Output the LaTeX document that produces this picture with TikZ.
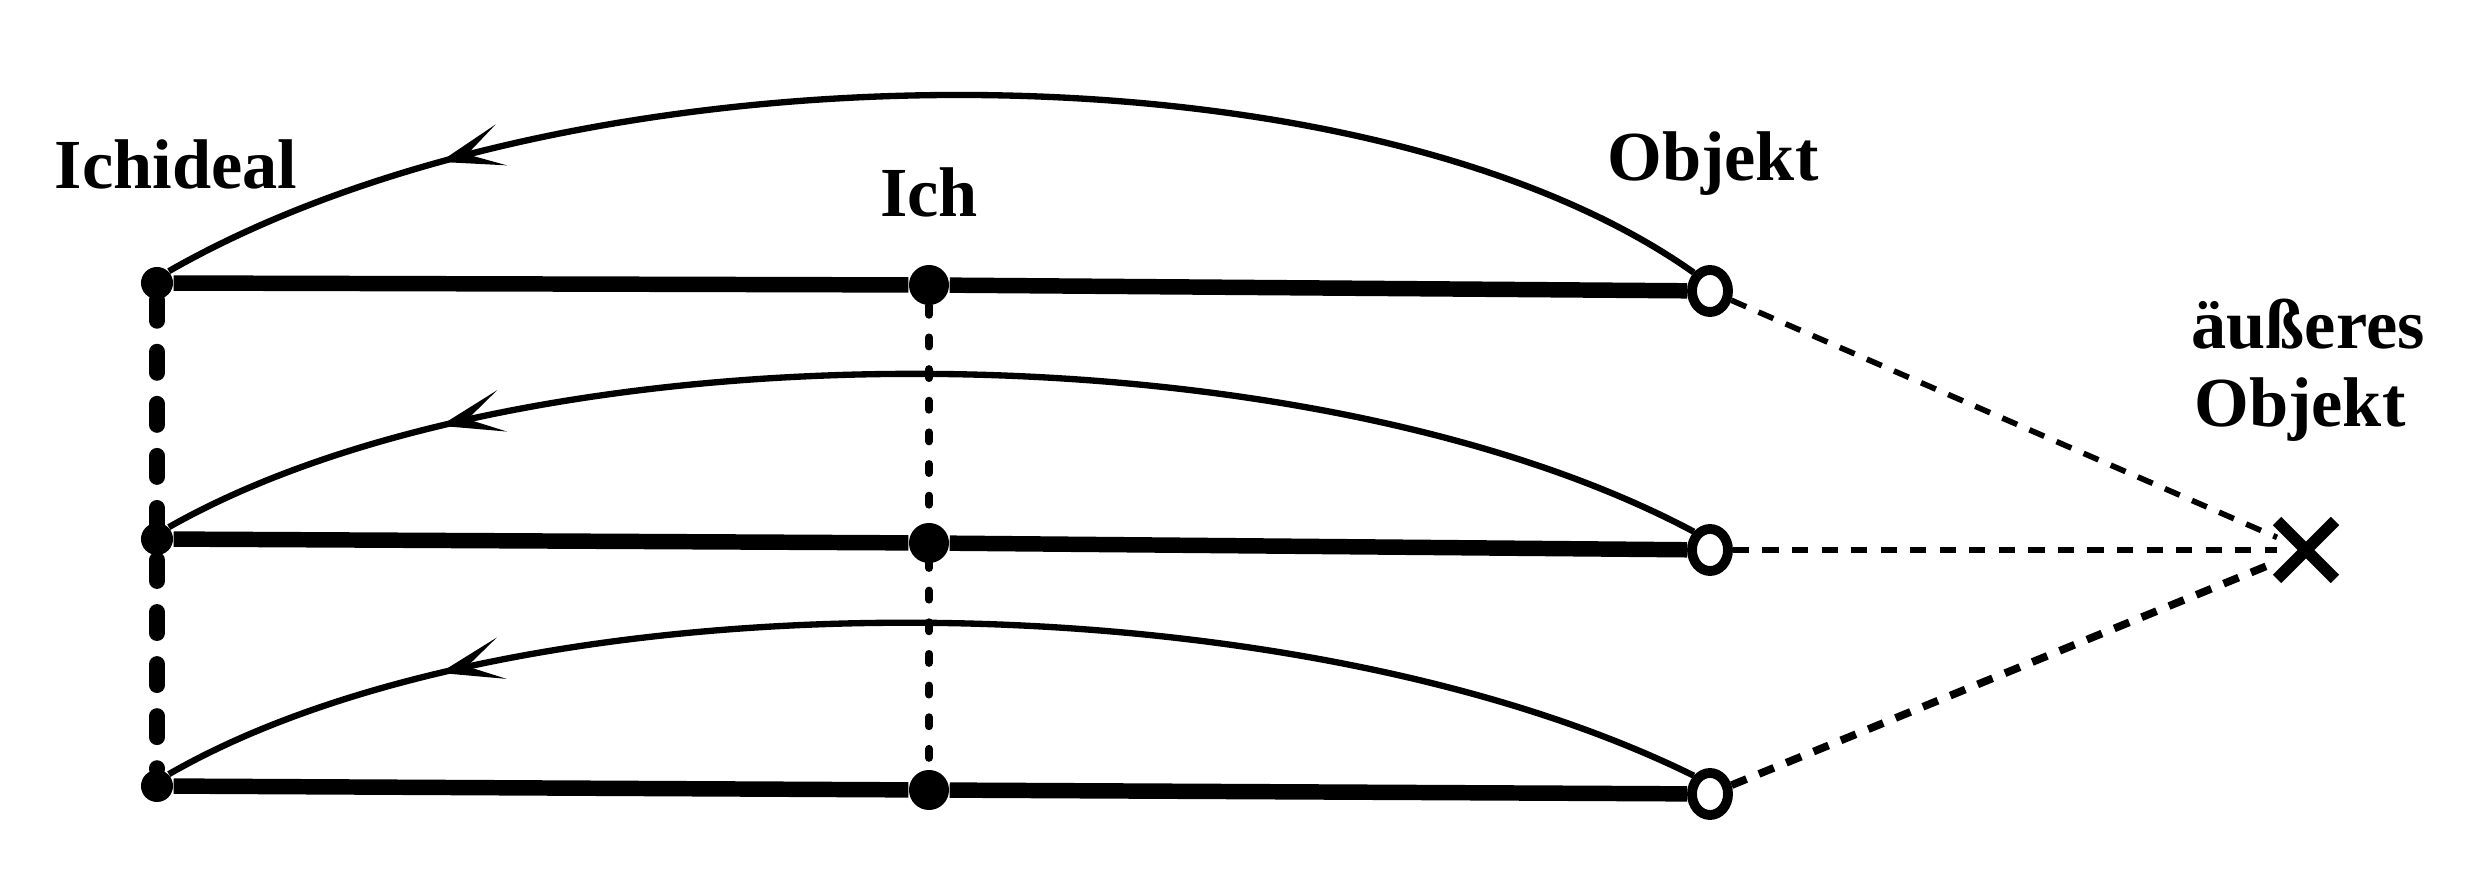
\documentclass[tikz,border=0pt]{standalone}
\usepackage{fontspec}
\setmainfont{Liberation Serif}
\usetikzlibrary{shapes.geometric,shapes.misc,arrows.meta,decorations.markings}
\tikzset{
  lbl/.style={font=\fontsize{20}{23}\selectfont\bfseries, inner sep=0pt, align=center},
  idealdot/.style={circle, fill=black, minimum size=0.32cm, inner sep=0pt},
  ichdot/.style={circle, fill=black, minimum size=0.40cm, inner sep=0pt},
  objcirc/.style={ellipse, draw=black, line width=2.8pt, fill=white, minimum width=0.36cm, minimum height=0.42cm, inner sep=0pt},
  bar/.style={line width=4.4pt},
  arc/.style={line width=1.8pt, postaction={decorate},
    decoration={markings, mark=at position #1 with {\arrow{Stealth[length=18pt,width=12pt,inset=10pt]}}}},
  idealdash/.style={line width=4.5pt, line cap=round, dash pattern=on 6pt off 8.8pt},
  ichdash/.style={line width=2.2pt, line cap=round, dash pattern=on 2.6pt off 6.4pt},
  extdash/.style={line width=1.6pt, dash pattern=on 4.6pt off 3.8pt},
  crossmark/.style={cross out, draw=black, line width=3.4pt, minimum width=0.46cm, minimum height=0.46cm, inner sep=0pt}
}
\begin{document}
\begin{tikzpicture}[x=0.01cm,y=-0.01cm]
\useasboundingbox (0,0) rectangle (2465,892);

% labels
\node[lbl] (lideal) at (176,164) {Ichideal};
\node[lbl] (lich) at (929,192) {Ich};
\node[lbl] (lobj) at (1713,164) {Objekt};
\node[lbl] (lext1) at (2308,324) {äußeres};
\node[lbl] (lext2) at (2300,410) {Objekt};

% points
\node[idealdot] (i1) at (157,283) {};
\node[idealdot] (i2) at (157,539) {};
\node[idealdot] (i3) at (157,786) {};
\node[ichdot] (e1) at (929,285) {};
\node[ichdot] (e2) at (929,543) {};
\node[ichdot] (e3) at (929,790) {};
\node[crossmark] (x) at (2306,550) {};

% vertical connectors
\draw[idealdash] (i1) -- (i3);
\draw[ichdash] (e1) -- (e3);

% horizontal bars
\draw[bar] (i1) -- (e1);
\draw[bar] (i2) -- (e2);
\draw[bar] (i3) -- (e3);

\node[objcirc] (o1) at (1710,291) {};
\node[objcirc] (o2) at (1710,550) {};
\node[objcirc] (o3) at (1710,794) {};

\draw[bar] (e1) -- (o1);
\draw[bar] (e2) -- (o2);
\draw[bar] (e3) -- (o3);

% arcs (object -> ego ideal)
\draw[arc=0.815] (o1.north west) .. controls (1360,36) and (580,36) .. (i1.north east);
\draw[arc=0.815] (o2.north west) .. controls (1300,322) and (530,322) .. (i2.north east);
\draw[arc=0.815] (o3.north west) .. controls (1280,572) and (520,572) .. (i3.north east);

% dashed lines to the external object
\draw[extdash] (o1) -- (x);
\draw[extdash] (o2) -- (x);
\draw[extdash, line width=2.2pt] (o3) -- (x);
\end{tikzpicture}
\end{document}
